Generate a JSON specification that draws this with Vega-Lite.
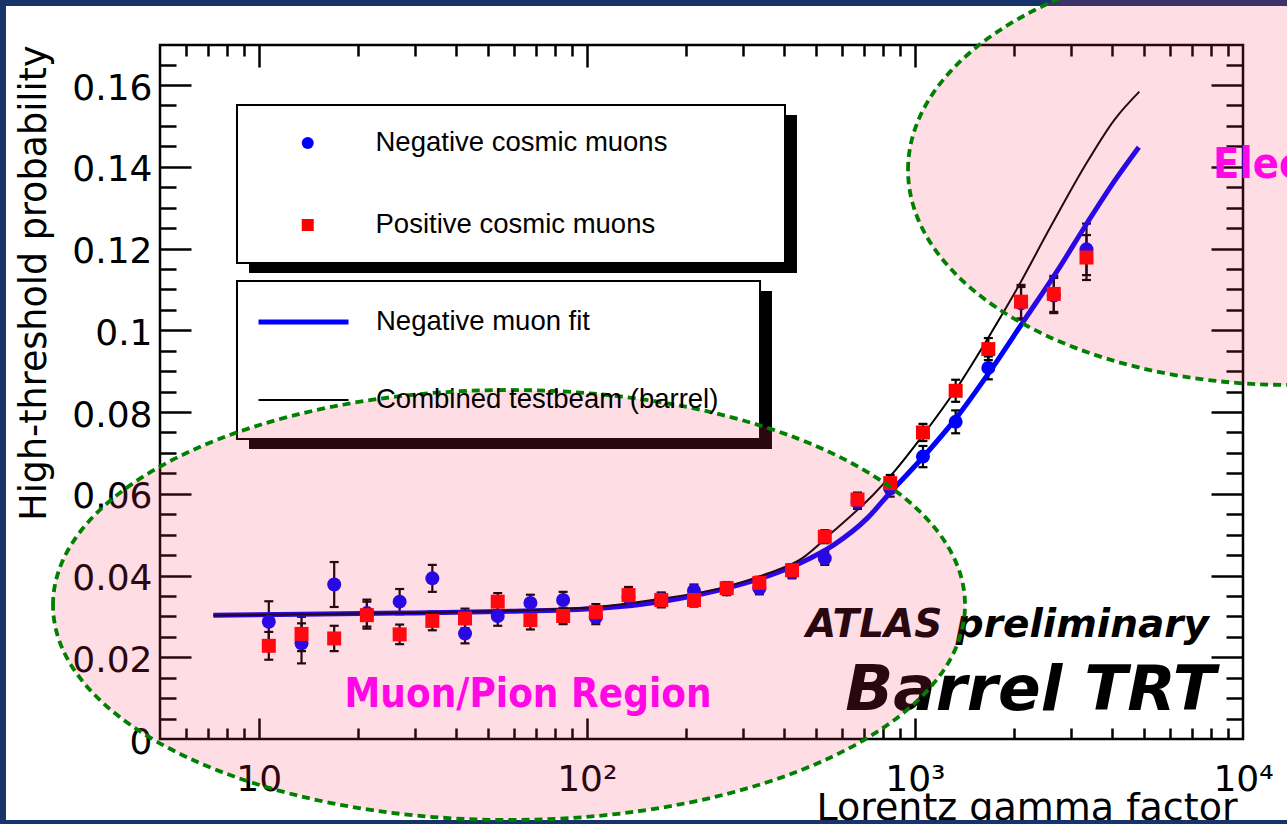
{
  "$schema": "https://vega.github.io/schema/vega-lite/v6.json",
  "width": 1083,
  "height": 694,
  "autosize": {"type": "none"},
  "padding": {"left": 160, "top": 45, "right": 44, "bottom": 85},
  "background": "white",
  "config": {
    "view": {"stroke": "black", "strokeWidth": 2.5},
    "axis": {
      "grid": false,
      "domain": false,
      "tickColor": "black",
      "tickWidth": 2.5,
      "labelColor": "black",
      "titleColor": "black",
      "labelFont": "DejaVu Sans",
      "titleFont": "DejaVu Sans",
      "titleFontWeight": "normal"
    }
  },
  "datasets": {
    "points": [
      {"series": "Negative cosmic muons", "gamma": 10.73, "p": 0.0287, "lo": 0.0237, "hi": 0.0337},
      {"series": "Negative cosmic muons", "gamma": 13.50, "p": 0.0234, "lo": 0.0185, "hi": 0.0283},
      {"series": "Negative cosmic muons", "gamma": 16.98, "p": 0.0378, "lo": 0.0323, "hi": 0.0433},
      {"series": "Negative cosmic muons", "gamma": 21.36, "p": 0.0308, "lo": 0.0275, "hi": 0.0341},
      {"series": "Negative cosmic muons", "gamma": 26.88, "p": 0.0336, "lo": 0.0305, "hi": 0.0367},
      {"series": "Negative cosmic muons", "gamma": 33.81, "p": 0.0393, "lo": 0.0360, "hi": 0.0426},
      {"series": "Negative cosmic muons", "gamma": 42.53, "p": 0.0258, "lo": 0.0234, "hi": 0.0282},
      {"series": "Negative cosmic muons", "gamma": 53.50, "p": 0.0301, "lo": 0.0277, "hi": 0.0325},
      {"series": "Negative cosmic muons", "gamma": 67.30, "p": 0.0333, "lo": 0.0313, "hi": 0.0353},
      {"series": "Negative cosmic muons", "gamma": 84.67, "p": 0.0340, "lo": 0.0320, "hi": 0.0360},
      {"series": "Negative cosmic muons", "gamma": 106.5, "p": 0.0298, "lo": 0.0281, "hi": 0.0315},
      {"series": "Negative cosmic muons", "gamma": 134.0, "p": 0.0348, "lo": 0.0330, "hi": 0.0366},
      {"series": "Negative cosmic muons", "gamma": 168.6, "p": 0.0342, "lo": 0.0326, "hi": 0.0358},
      {"series": "Negative cosmic muons", "gamma": 212.1, "p": 0.0363, "lo": 0.0348, "hi": 0.0378},
      {"series": "Negative cosmic muons", "gamma": 266.8, "p": 0.0366, "lo": 0.0352, "hi": 0.0380},
      {"series": "Negative cosmic muons", "gamma": 335.6, "p": 0.0369, "lo": 0.0354, "hi": 0.0384},
      {"series": "Negative cosmic muons", "gamma": 422.2, "p": 0.0408, "lo": 0.0393, "hi": 0.0423},
      {"series": "Negative cosmic muons", "gamma": 531.2, "p": 0.0442, "lo": 0.0426, "hi": 0.0458},
      {"series": "Negative cosmic muons", "gamma": 668.3, "p": 0.0580, "lo": 0.0563, "hi": 0.0597},
      {"series": "Negative cosmic muons", "gamma": 840.7, "p": 0.0613, "lo": 0.0593, "hi": 0.0633},
      {"series": "Negative cosmic muons", "gamma": 1058, "p": 0.0691, "lo": 0.0665, "hi": 0.0717},
      {"series": "Negative cosmic muons", "gamma": 1331, "p": 0.0776, "lo": 0.0748, "hi": 0.0804},
      {"series": "Negative cosmic muons", "gamma": 1674, "p": 0.0908, "lo": 0.0880, "hi": 0.0936},
      {"series": "Negative cosmic muons", "gamma": 2106, "p": 0.1066, "lo": 0.1026, "hi": 0.1106},
      {"series": "Negative cosmic muons", "gamma": 2650, "p": 0.1085, "lo": 0.1042, "hi": 0.1128},
      {"series": "Negative cosmic muons", "gamma": 3334, "p": 0.1198, "lo": 0.1135, "hi": 0.1261},
      {"series": "Positive cosmic muons", "gamma": 10.73, "p": 0.0228, "lo": 0.0194, "hi": 0.0262},
      {"series": "Positive cosmic muons", "gamma": 13.50, "p": 0.0257, "lo": 0.0215, "hi": 0.0299},
      {"series": "Positive cosmic muons", "gamma": 16.98, "p": 0.0246, "lo": 0.0215, "hi": 0.0277},
      {"series": "Positive cosmic muons", "gamma": 21.36, "p": 0.0303, "lo": 0.0270, "hi": 0.0336},
      {"series": "Positive cosmic muons", "gamma": 26.88, "p": 0.0256, "lo": 0.0232, "hi": 0.0280},
      {"series": "Positive cosmic muons", "gamma": 33.81, "p": 0.0289, "lo": 0.0266, "hi": 0.0312},
      {"series": "Positive cosmic muons", "gamma": 42.53, "p": 0.0295, "lo": 0.0271, "hi": 0.0319},
      {"series": "Positive cosmic muons", "gamma": 53.50, "p": 0.0336, "lo": 0.0315, "hi": 0.0357},
      {"series": "Positive cosmic muons", "gamma": 67.30, "p": 0.0291, "lo": 0.0268, "hi": 0.0314},
      {"series": "Positive cosmic muons", "gamma": 84.67, "p": 0.0301, "lo": 0.0281, "hi": 0.0321},
      {"series": "Positive cosmic muons", "gamma": 106.5, "p": 0.0310, "lo": 0.0290, "hi": 0.0330},
      {"series": "Positive cosmic muons", "gamma": 134.0, "p": 0.0352, "lo": 0.0332, "hi": 0.0372},
      {"series": "Positive cosmic muons", "gamma": 168.6, "p": 0.0340, "lo": 0.0322, "hi": 0.0358},
      {"series": "Positive cosmic muons", "gamma": 212.1, "p": 0.0340, "lo": 0.0324, "hi": 0.0356},
      {"series": "Positive cosmic muons", "gamma": 266.8, "p": 0.0369, "lo": 0.0354, "hi": 0.0384},
      {"series": "Positive cosmic muons", "gamma": 335.6, "p": 0.0382, "lo": 0.0367, "hi": 0.0397},
      {"series": "Positive cosmic muons", "gamma": 422.2, "p": 0.0413, "lo": 0.0398, "hi": 0.0428},
      {"series": "Positive cosmic muons", "gamma": 531.2, "p": 0.0495, "lo": 0.0479, "hi": 0.0511},
      {"series": "Positive cosmic muons", "gamma": 668.3, "p": 0.0586, "lo": 0.0569, "hi": 0.0603},
      {"series": "Positive cosmic muons", "gamma": 840.7, "p": 0.0626, "lo": 0.0606, "hi": 0.0646},
      {"series": "Positive cosmic muons", "gamma": 1058, "p": 0.0750, "lo": 0.0729, "hi": 0.0771},
      {"series": "Positive cosmic muons", "gamma": 1331, "p": 0.0852, "lo": 0.0825, "hi": 0.0879},
      {"series": "Positive cosmic muons", "gamma": 1674, "p": 0.0954, "lo": 0.0927, "hi": 0.0981},
      {"series": "Positive cosmic muons", "gamma": 2106, "p": 0.1070, "lo": 0.1029, "hi": 0.1111},
      {"series": "Positive cosmic muons", "gamma": 2650, "p": 0.1089, "lo": 0.1045, "hi": 0.1133},
      {"series": "Positive cosmic muons", "gamma": 3334, "p": 0.1178, "lo": 0.1123, "hi": 0.1233}
    ],
    "curves": [
      {"curve": "Negative muon fit", "gamma": 7.27, "p": 0.0303},
      {"curve": "Negative muon fit", "gamma": 13.41, "p": 0.0305},
      {"curve": "Negative muon fit", "gamma": 27.05, "p": 0.0308},
      {"curve": "Negative muon fit", "gamma": 54.6, "p": 0.0312},
      {"curve": "Negative muon fit", "gamma": 110.2, "p": 0.0320},
      {"curve": "Negative muon fit", "gamma": 168, "p": 0.0336},
      {"curve": "Negative muon fit", "gamma": 281, "p": 0.0374},
      {"curve": "Negative muon fit", "gamma": 449, "p": 0.0431},
      {"curve": "Negative muon fit", "gamma": 566, "p": 0.0475},
      {"curve": "Negative muon fit", "gamma": 717.5, "p": 0.0541},
      {"curve": "Negative muon fit", "gamma": 845, "p": 0.0605},
      {"curve": "Negative muon fit", "gamma": 1068, "p": 0.0693},
      {"curve": "Negative muon fit", "gamma": 1350, "p": 0.0790},
      {"curve": "Negative muon fit", "gamma": 1705, "p": 0.0903},
      {"curve": "Negative muon fit", "gamma": 2155, "p": 0.1025},
      {"curve": "Negative muon fit", "gamma": 2725, "p": 0.1147},
      {"curve": "Negative muon fit", "gamma": 3364, "p": 0.1265},
      {"curve": "Negative muon fit", "gamma": 4055, "p": 0.1365},
      {"curve": "Negative muon fit", "gamma": 4813, "p": 0.1448},
      {"curve": "Combined testbeam (barrel)", "gamma": 7.27, "p": 0.0302},
      {"curve": "Combined testbeam (barrel)", "gamma": 27.05, "p": 0.0308},
      {"curve": "Combined testbeam (barrel)", "gamma": 54.6, "p": 0.0313},
      {"curve": "Combined testbeam (barrel)", "gamma": 110.2, "p": 0.0324},
      {"curve": "Combined testbeam (barrel)", "gamma": 168, "p": 0.0343},
      {"curve": "Combined testbeam (barrel)", "gamma": 262, "p": 0.0371},
      {"curve": "Combined testbeam (barrel)", "gamma": 355.4, "p": 0.0405},
      {"curve": "Combined testbeam (barrel)", "gamma": 449, "p": 0.0440},
      {"curve": "Combined testbeam (barrel)", "gamma": 567.4, "p": 0.0510},
      {"curve": "Combined testbeam (barrel)", "gamma": 751.5, "p": 0.0600},
      {"curve": "Combined testbeam (barrel)", "gamma": 845, "p": 0.0645},
      {"curve": "Combined testbeam (barrel)", "gamma": 1068, "p": 0.0748},
      {"curve": "Combined testbeam (barrel)", "gamma": 1350, "p": 0.0862},
      {"curve": "Combined testbeam (barrel)", "gamma": 1705, "p": 0.0993},
      {"curve": "Combined testbeam (barrel)", "gamma": 2009, "p": 0.1090},
      {"curve": "Combined testbeam (barrel)", "gamma": 2599, "p": 0.1255},
      {"curve": "Combined testbeam (barrel)", "gamma": 3284, "p": 0.1400},
      {"curve": "Combined testbeam (barrel)", "gamma": 4055, "p": 0.1515},
      {"curve": "Combined testbeam (barrel)", "gamma": 4831, "p": 0.1584}
    ]
  },
  "resolve": {"axis": {"x": "independent", "y": "independent"}},
  "layer": [
    {
      "data": {"values": [{}]},
      "mark": {"type": "rect", "fill": "#16336a"},
      "encoding": {
        "x": {"datum": 1, "type": "quantitative", "scale": {"type": "log", "domain": [5, 10000], "nice": false}, "axis": null},
        "x2": {"datum": 1.6966},
        "y": {"datum": 0.1857, "type": "quantitative", "scale": {"domain": [0, 0.1698], "nice": false, "zero": false}, "axis": null},
        "y2": {"datum": -0.0247}
      }
    },
    {
      "data": {"values": [{}]},
      "mark": {"type": "rect", "fill": "#16336a"},
      "encoding": {
        "x": {"datum": 1, "type": "quantitative", "scale": {"type": "log", "domain": [5, 10000], "nice": false}, "axis": null},
        "x2": {"datum": 20000},
        "y": {"datum": 0.1857, "type": "quantitative", "scale": {"domain": [0, 0.1698], "nice": false, "zero": false}, "axis": null},
        "y2": {"datum": 0.17934}
      }
    },
    {
      "data": {"values": [{}]},
      "mark": {"type": "rect", "fill": "#16336a"},
      "encoding": {
        "x": {"datum": 1, "type": "quantitative", "scale": {"type": "log", "domain": [5, 10000], "nice": false}, "axis": null},
        "x2": {"datum": 20000},
        "y": {"datum": -0.01982, "type": "quantitative", "scale": {"domain": [0, 0.1698], "nice": false, "zero": false}, "axis": null},
        "y2": {"datum": -0.0247}
      }
    },
    {
      "data": {"values": [{}]},
      "mark": {"type": "rect", "fill": "black"},
      "encoding": {
        "x": {"datum": 9.338, "type": "quantitative", "scale": {"type": "log", "domain": [5, 10000], "nice": false}, "axis": null},
        "x2": {"datum": 437.0},
        "y": {"datum": 0.15267, "type": "quantitative", "scale": {"domain": [0, 0.1698], "nice": false, "zero": false}, "axis": null},
        "y2": {"datum": 0.11401}
      }
    },
    {
      "data": {"values": [{}]},
      "mark": {"type": "rect", "fill": "white", "stroke": "black", "strokeWidth": 2},
      "encoding": {
        "x": {"datum": 8.583, "type": "quantitative", "scale": {"type": "log", "domain": [5, 10000], "nice": false}, "axis": null},
        "x2": {"datum": 401.8},
        "y": {"datum": 0.15512, "type": "quantitative", "scale": {"domain": [0, 0.1698], "nice": false, "zero": false}, "axis": null},
        "y2": {"datum": 0.11646}
      }
    },
    {
      "data": {"values": [{}]},
      "mark": {"type": "rect", "fill": "black"},
      "encoding": {
        "x": {"datum": 9.338, "type": "quantitative", "scale": {"type": "log", "domain": [5, 10000], "nice": false}, "axis": null},
        "x2": {"datum": 366.7},
        "y": {"datum": 0.10961, "type": "quantitative", "scale": {"domain": [0, 0.1698], "nice": false, "zero": false}, "axis": null},
        "y2": {"datum": 0.07095}
      }
    },
    {
      "data": {"values": [{}]},
      "mark": {"type": "rect", "fill": "white", "stroke": "black", "strokeWidth": 2},
      "encoding": {
        "x": {"datum": 8.583, "type": "quantitative", "scale": {"type": "log", "domain": [5, 10000], "nice": false}, "axis": null},
        "x2": {"datum": 337.2},
        "y": {"datum": 0.11206, "type": "quantitative", "scale": {"domain": [0, 0.1698], "nice": false, "zero": false}, "axis": null},
        "y2": {"datum": 0.07340}
      }
    },
    {
      "data": {"name": "points"},
      "mark": {"type": "rule", "stroke": "black", "strokeWidth": 2.2},
      "encoding": {
        "x": {
          "field": "gamma", "type": "quantitative",
          "scale": {"type": "log", "domain": [5, 10000], "nice": false},
          "axis": {
            "orient": "bottom", "values": [10, 100, 1000, 10000], "ticks": false, "tickSize": 0,
            "labelExpr": "datum.value == 10 ? '10' : datum.value == 100 ? '10²' : datum.value == 1000 ? '10³' : '10⁴'",
            "labelFontSize": 36, "labelPadding": 23, "labelFlush": false, "labelOverlap": false, "labelBound": false,
            "title": "Lorentz gamma factor", "titleFontSize": 38, "titleX": 1077, "titleY": 80,
            "titleAlign": "right", "titleAnchor": "end", "titleBaseline": "alphabetic"
          }
        },
        "y": {
          "field": "lo", "type": "quantitative",
          "scale": {"domain": [0, 0.1698], "nice": false, "zero": false},
          "axis": {
            "orient": "left", "values": [0, 0.02, 0.04, 0.06, 0.08, 0.1, 0.12, 0.14, 0.16], "ticks": false, "tickSize": 0,
            "labelExpr": "format(datum.value, '.2~f')",
            "labelFontSize": 36, "labelPadding": 8, "labelOffset": 3, "labelFlush": false, "labelOverlap": false, "labelBound": false,
            "title": "High-threshold probability", "titleFontSize": 36.5, "titleAngle": -90,
            "titleX": -115, "titleY": 0, "titleAlign": "right", "titleAnchor": "end", "titleBaseline": "alphabetic"
          }
        },
        "y2": {"field": "hi"}
      }
    },
    {
      "data": {"name": "points"},
      "mark": {"type": "point", "shape": "stroke", "size": 81, "stroke": "black", "strokeWidth": 2.2, "filled": false, "opacity": 1},
      "encoding": {
        "x": {
          "field": "gamma", "type": "quantitative",
          "scale": {"type": "log", "domain": [5, 10000], "nice": false},
          "axis": {"orient": "top", "offset": -694, "values": [10, 100, 1000], "labels": false, "tickSize": 21, "title": null}
        },
        "y": {
          "field": "lo", "type": "quantitative",
          "scale": {"domain": [0, 0.1698], "nice": false, "zero": false},
          "axis": {"orient": "right", "offset": -1083, "values": [0.02, 0.04, 0.06, 0.08, 0.1, 0.12, 0.14, 0.16], "labels": false, "tickSize": 31, "title": null}
        }
      }
    },
    {
      "data": {"name": "points"},
      "mark": {"type": "point", "shape": "stroke", "size": 81, "stroke": "black", "strokeWidth": 2.2, "filled": false, "opacity": 1},
      "encoding": {
        "x": {
          "field": "gamma", "type": "quantitative",
          "scale": {"type": "log", "domain": [5, 10000], "nice": false},
          "axis": {"orient": "top", "offset": -694, "values": [6, 7, 8, 9, 20, 30, 40, 50, 60, 70, 80, 90, 200, 300, 400, 500, 600, 700, 800, 900, 2000, 3000, 4000, 5000, 6000, 7000, 8000, 9000], "labels": false, "tickSize": 11, "title": null}
        },
        "y": {
          "field": "hi", "type": "quantitative",
          "scale": {"domain": [0, 0.1698], "nice": false, "zero": false},
          "axis": {"orient": "right", "offset": -1083, "values": [0.005, 0.01, 0.015, 0.025, 0.03, 0.035, 0.045, 0.05, 0.055, 0.065, 0.07, 0.075, 0.085, 0.09, 0.095, 0.105, 0.11, 0.115, 0.125, 0.13, 0.135, 0.145, 0.15, 0.155, 0.165], "labels": false, "tickSize": 16, "title": null}
        }
      }
    },
    {
      "data": {"name": "curves"},
      "mark": {"type": "line", "interpolate": "monotone"},
      "encoding": {
        "x": {
          "field": "gamma", "type": "quantitative",
          "scale": {"type": "log", "domain": [5, 10000], "nice": false},
          "axis": {"orient": "bottom", "offset": -694, "values": [10, 100, 1000], "labels": false, "tickSize": 22, "title": null}
        },
        "y": {
          "field": "p", "type": "quantitative",
          "scale": {"domain": [0, 0.1698], "nice": false, "zero": false},
          "axis": {"orient": "left", "offset": -1083, "values": [0.02, 0.04, 0.06, 0.08, 0.1, 0.12, 0.14, 0.16], "labels": false, "tickSize": 32, "title": null}
        },
        "stroke": {
          "field": "curve", "type": "nominal",
          "scale": {"domain": ["Negative muon fit", "Combined testbeam (barrel)"], "range": ["#0000ff", "#000000"]},
          "legend": {
            "orient": "none", "legendX": 77, "legendY": 262, "title": null, "padding": 0,
            "symbolType": "stroke", "symbolSize": 8100, "symbolOffset": 19, "labelOffset": 25,
            "clipHeight": 30, "rowPadding": 48,
            "labelFont": "Liberation Sans", "labelFontSize": 27.5, "labelColor": "black", "labelLimit": 700
          }
        },
        "strokeWidth": {
          "field": "curve", "type": "nominal",
          "scale": {"domain": ["Negative muon fit", "Combined testbeam (barrel)"], "range": [5, 2]}
        }
      }
    },
    {
      "data": {"name": "points"},
      "mark": {"type": "point", "filled": true, "opacity": 1, "size": 196, "strokeWidth": 0},
      "encoding": {
        "x": {
          "field": "gamma", "type": "quantitative",
          "scale": {"type": "log", "domain": [5, 10000], "nice": false},
          "axis": {"orient": "bottom", "offset": -694, "values": [6, 7, 8, 9, 20, 30, 40, 50, 60, 70, 80, 90, 200, 300, 400, 500, 600, 700, 800, 900, 2000, 3000, 4000, 5000, 6000, 7000, 8000, 9000], "labels": false, "tickSize": 11, "title": null}
        },
        "y": {
          "field": "p", "type": "quantitative",
          "scale": {"domain": [0, 0.1698], "nice": false, "zero": false},
          "axis": {"orient": "left", "offset": -1083, "values": [0.005, 0.01, 0.015, 0.025, 0.03, 0.035, 0.045, 0.05, 0.055, 0.065, 0.07, 0.075, 0.085, 0.09, 0.095, 0.105, 0.11, 0.115, 0.125, 0.13, 0.135, 0.145, 0.15, 0.155, 0.165], "labels": false, "tickSize": 17, "title": null}
        },
        "color": {
          "field": "series", "type": "nominal",
          "scale": {"domain": ["Negative cosmic muons", "Positive cosmic muons"], "range": ["#0000ff", "#ff0000"]},
          "legend": {
            "orient": "none", "legendX": 77, "legendY": 84, "title": null, "padding": 0,
            "symbolSize": 144, "symbolStrokeWidth": 0, "symbolOffset": 57, "labelOffset": 54,
            "clipHeight": 28, "rowPadding": 54,
            "labelFont": "Liberation Sans", "labelFontSize": 27.5, "labelColor": "black", "labelLimit": 700
          }
        },
        "shape": {
          "field": "series", "type": "nominal",
          "scale": {"domain": ["Negative cosmic muons", "Positive cosmic muons"], "range": ["circle", "square"]}
        }
      }
    },
    {
      "data": {"values": [{}]},
      "mark": {"type": "text", "text": "Muon/Pion Region", "font": "'Liberation Sans Narrow', 'DejaVu Sans Condensed', sans-serif", "fontWeight": "bold", "fontSize": 40, "fill": "#ff00ff", "align": "center", "baseline": "alphabetic"},
      "encoding": {
        "x": {"datum": 66.18, "type": "quantitative", "scale": {"type": "log", "domain": [5, 10000], "nice": false}, "axis": null},
        "y": {"datum": 0.00783, "type": "quantitative", "scale": {"domain": [0, 0.1698], "nice": false, "zero": false}, "axis": null}
      }
    },
    {
      "data": {"values": [{}]},
      "mark": {"type": "text", "text": "Electron Region", "font": "'Liberation Sans Narrow', 'DejaVu Sans Condensed', sans-serif", "fontWeight": "bold", "fontSize": 43, "fill": "#ff00ff", "align": "left", "baseline": "alphabetic"},
      "encoding": {
        "x": {"datum": 8102, "type": "quantitative", "scale": {"type": "log", "domain": [5, 10000], "nice": false}, "axis": null},
        "y": {"datum": 0.13719, "type": "quantitative", "scale": {"domain": [0, 0.1698], "nice": false, "zero": false}, "axis": null}
      }
    },
    {
      "data": {"values": [{}]},
      "mark": {"type": "text", "text": "ATLAS preliminary", "font": "DejaVu Sans", "fontWeight": "bold", "fontStyle": "italic", "fontSize": 39, "fill": "black", "align": "center", "baseline": "alphabetic"},
      "encoding": {
        "x": {"datum": 1915, "type": "quantitative", "scale": {"type": "log", "domain": [5, 10000], "nice": false}, "axis": null},
        "y": {"datum": 0.02496, "type": "quantitative", "scale": {"domain": [0, 0.1698], "nice": false, "zero": false}, "axis": null}
      }
    },
    {
      "data": {"values": [{}]},
      "mark": {"type": "text", "text": "Barrel TRT", "font": "DejaVu Sans", "fontWeight": "bold", "fontStyle": "italic", "fontSize": 63, "fill": "black", "align": "center", "baseline": "alphabetic"},
      "encoding": {
        "x": {"datum": 2251, "type": "quantitative", "scale": {"type": "log", "domain": [5, 10000], "nice": false}, "axis": null},
        "y": {"datum": 0.0071, "type": "quantitative", "scale": {"domain": [0, 0.1698], "nice": false, "zero": false}, "axis": null}
      }
    },
    {
      "data": {"values": [{}]},
      "mark": {
        "type": "point", "filled": true, "opacity": 1,
        "shape": "M-1,0C-1,-0.2604,-0.5523,-0.4715,0,-0.4715C0.5523,-0.4715,1,-0.2604,1,0C1,0.2604,0.5523,0.4715,0,0.4715C-0.5523,0.4715,-1,0.2604,-1,0Z",
        "size": 831744, "fill": "#ff3061", "fillOpacity": 0.165,
        "stroke": "#008000", "strokeOpacity": 1, "strokeWidth": 3.8, "strokeDash": [8, 5]
      },
      "encoding": {
        "x": {"datum": 57.91, "type": "quantitative", "scale": {"type": "log", "domain": [5, 10000], "nice": false}, "axis": null},
        "y": {"datum": 0.03279, "type": "quantitative", "scale": {"domain": [0, 0.1698], "nice": false, "zero": false}, "axis": null}
      }
    },
    {
      "data": {"values": [{}]},
      "mark": {
        "type": "point", "filled": true, "opacity": 1,
        "shape": "M-1,0C-1,-0.3109,-0.5523,-0.5628,0,-0.5628C0.5523,-0.5628,1,-0.3109,1,0C1,0.3109,0.5523,0.5628,0,0.5628C-0.5523,0.5628,-1,0.3109,-1,0Z",
        "size": 583696, "fill": "#ff3061", "fillOpacity": 0.165,
        "stroke": "#008000", "strokeOpacity": 1, "strokeWidth": 3.8, "strokeDash": [8, 5]
      },
      "encoding": {
        "x": {"datum": 13911, "type": "quantitative", "scale": {"type": "log", "domain": [5, 10000], "nice": false}, "axis": null},
        "y": {"datum": 0.13922, "type": "quantitative", "scale": {"domain": [0, 0.1698], "nice": false, "zero": false}, "axis": null}
      }
    }
  ]
}
